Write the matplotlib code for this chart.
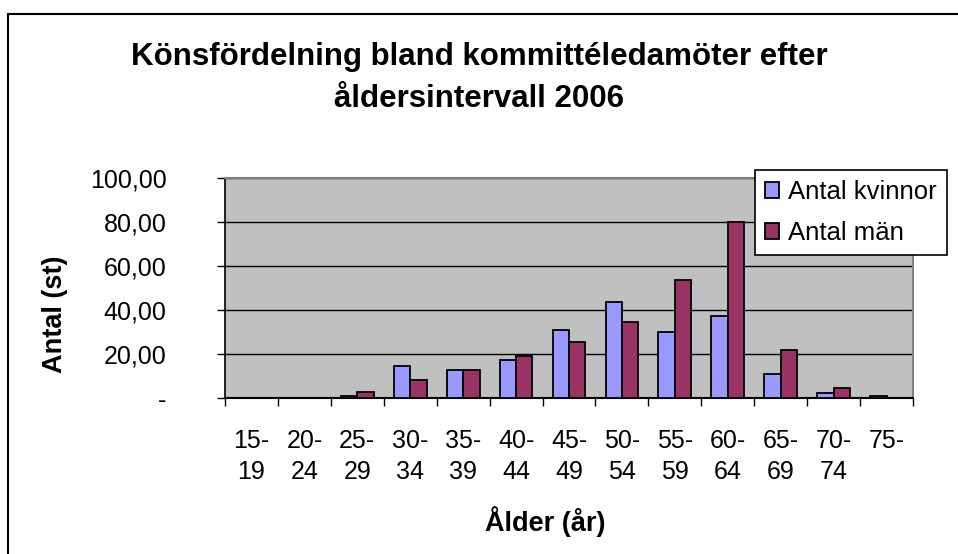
import matplotlib
matplotlib.use('Agg')
import matplotlib.pyplot as plt
import numpy as np
from matplotlib.patches import Rectangle

# data
kategorier = ['15-\n19', '20-\n24', '25-\n29', '30-\n34', '35-\n39', '40-\n44', '45-\n49',
              '50-\n54', '55-\n59', '60-\n64', '65-\n69', '70-\n74', '75-\n']
kvinnor = [0, 0, 0.9, 14.5, 12.6, 17.3, 30.8, 43.5, 29.8, 37.3, 10.8, 2.4, 0.7]
man = [0, 0, 2.7, 8.2, 12.6, 19.1, 25.5, 34.4, 53.6, 80.0, 21.8, 4.4, 0]
yticks = [0, 20, 40, 60, 80, 100]
yticklabels = ['-', '20,00', '40,00', '60,00', '80,00', '100,00']

plt.rcParams['font.family'] = ['Liberation Sans', 'DejaVu Sans']

fig = plt.figure(figsize=(9.58, 5.54), dpi=100)
ax = fig.add_axes([225 / 958, 1 - 398 / 554, (913 - 225) / 958, (398 - 178) / 554])

x = np.arange(len(kategorier))
w = 0.31
ax.bar(x - w / 2, kvinnor, w, color='#9999FF', edgecolor='black', linewidth=1.3,
       label='Antal kvinnor', zorder=3)
ax.bar(x + w / 2, man, w, color='#993366', edgecolor='black', linewidth=1.3,
       label='Antal män', zorder=3)

ax.set_facecolor('#C0C0C0')
ax.set_xlim(-0.5, len(kategorier) - 0.5)
ax.set_ylim(0, 100)
ax.set_yticks(yticks)
ax.set_yticklabels(yticklabels, fontsize=18)
ax.set_xticks(np.arange(len(kategorier) + 1) - 0.5)
ax.set_xticklabels([])
ax.set_xticks(x, minor=True)
ax.set_xticklabels(kategorier, minor=True, fontsize=18, linespacing=1.4, va='top')
ax.tick_params(axis='x', which='minor', length=0, pad=22)
ax.tick_params(axis='x', which='major', length=6, width=1, direction='out')
ax.tick_params(axis='y', length=6, width=1, direction='out', pad=36)
ax.yaxis.grid(True, color='black', linewidth=1, zorder=0)
ax.set_axisbelow(True)

for s in ['top', 'right']:
    ax.spines[s].set_color('#808080')
    ax.spines[s].set_linewidth(1.5)
ax.spines['left'].set_linewidth(1.2)
ax.spines['bottom'].set_linewidth(1.5)

ax.set_ylabel('Antal (st)', fontsize=19.5, fontweight='bold', va='center')
ax.yaxis.set_label_coords((55 - 225) / 688, (398 - 314) / 220)
ax.set_xlabel('Ålder (år)', fontsize=19.5, fontweight='bold', va='center')
ax.xaxis.set_label_coords((545 - 225) / 688, (398 - 522) / 220)

fig.text(0.5, 1 - 78 / 554, 'Könsfördelning bland kommittéledamöter efter\nåldersintervall 2006',
         ha='center', va='center', fontsize=22.5, fontweight='bold', linespacing=1.55)

leg = ax.legend(loc='upper left', bbox_to_anchor=(755 / 958, 1 - 170 / 554),
                bbox_transform=fig.transFigure, fontsize=18.5, frameon=True, fancybox=False,
                edgecolor='black', handlelength=0.55, handleheight=0.55, handletextpad=0.35,
                borderpad=0.4, labelspacing=0.65, borderaxespad=0, framealpha=1)
leg.get_frame().set_linewidth(1.2)
leg.set_zorder(5)

fig.patches.append(Rectangle((8 / 958, -0.1), 1.2, 1 - 14 / 554 + 0.1, transform=fig.transFigure,
                             fill=False, edgecolor='black', linewidth=1.5))

fig.savefig('out.png', dpi=100)
